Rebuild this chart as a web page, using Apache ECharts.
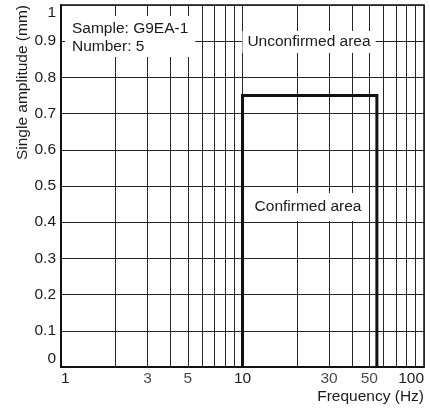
<!DOCTYPE html>
<html><head><meta charset="utf-8">
<script src="https://cdn.jsdelivr.net/npm/echarts@6/dist/echarts.min.js"></script>
<style>html,body{margin:0;padding:0;background:#fff}#c{width:430px;height:408px}</style>
</head><body><div id="c"></div>
<script>
// Data
const xMinorGrid = [2, 3, 4, 5, 6, 7, 8, 9, 20, 30, 40, 50, 60, 70, 80, 90];
const xExtraLabels = [3, 5, 30, 50];
const rectFreq = [10, 10, 55, 55];
const rectAmp = [0, 0.75, 0.75, 0];
const sampleText = 'Sample: G9EA-1\nNumber: 5';
const unconfirmedText = 'Unconfirmed area';
const confirmedText = 'Confirmed area';
const xName = 'Frequency (Hz)';
const yName = 'Single amplitude (mm)';

const FONT = '"Liberation Sans", Arial, Helvetica, sans-serif';
const FS = 15.5;
const TXT = '#1a1a1a';
const GRID = '#262626';

const chart = echarts.init(document.getElementById('c'), null, {renderer: 'canvas'});
chart.setOption({
  animation: false,
  backgroundColor: '#fff',
  textStyle: {fontFamily: FONT},
  grid: {left: 61, right: 6, top: 5, bottom: 41, show: true, borderColor: '#111', borderWidth: 1.5, backgroundColor: 'transparent'},
  xAxis: {
    type: 'log', logBase: 10, min: 1, max: 100,
    axisLine: {show: true, lineStyle: {color: '#111', width: 2}},
    axisTick: {show: false},
    splitLine: {show: true, lineStyle: {color: GRID, width: 1}},
    minorTick: {show: false}, minorSplitLine: {show: false},
    axisLabel: {fontSize: FS, color: TXT, fontFamily: FONT, margin: 4, alignMinLabel: 'left', alignMaxLabel: 'right'}
  },
  yAxis: {
    type: 'value', min: 0, max: 1, interval: 0.1,
    axisLine: {show: true, lineStyle: {color: '#111', width: 2}},
    axisTick: {show: false},
    splitLine: {show: true, lineStyle: {color: GRID, width: 1}},
    axisLabel: {
      fontSize: FS, color: TXT, fontFamily: FONT, margin: 5,
      verticalAlignMinLabel: 'bottom', verticalAlignMaxLabel: 'top',
      formatter: v => (v === 0 ? '0' : (Math.abs(v - 1) < 1e-9 ? '1' : v.toFixed(1)))
    }
  },
  series: [
    {
      type: 'line', data: [], z: 1, silent: true,
      markLine: {
        silent: true, symbol: ['none', 'none'], label: {show: false},
        lineStyle: {color: GRID, width: 1, type: 'solid'},
        emphasis: {disabled: true},
        data: xMinorGrid.map(v => ({xAxis: v}))
      }
    },
    {
      type: 'scatter', symbolSize: 0, z: 6, silent: true, clip: false,
      data: xExtraLabels.map(v => [v, 0]),
      label: {show: true, position: 'bottom', distance: 4, fontSize: FS, color: TXT, fontFamily: FONT,
        formatter: p => String(p.value[0])}
    },
    {
      type: 'line', z: 5, silent: true, symbol: 'none',
      data: rectFreq.map((f, i) => [f, rectAmp[i]]),
      lineStyle: {color: '#111', width: 3, join: 'miter'}
    }
  ],
  graphic: [
    {type: 'text', x: 65, y: 16, z: 100, style: {text: sampleText, font: FS + 'px ' + FONT, fill: TXT, lineHeight: 18, backgroundColor: '#fff', padding: [4, 7, 1, 7]}},
    {type: 'text', x: 309, y: 42, z: 100, style: {text: unconfirmedText, font: FS + 'px ' + FONT, fill: TXT, align: 'center', verticalAlign: 'middle', backgroundColor: '#fff', padding: [3, 5, 3, 5]}},
    {type: 'text', x: 308, y: 207, z: 100, style: {text: confirmedText, font: FS + 'px ' + FONT, fill: TXT, align: 'center', verticalAlign: 'middle', backgroundColor: '#fff', padding: [6, 4, 6, 4]}},
    {type: 'text', x: 424, y: 397, z: 100, style: {text: xName, font: FS + 'px ' + FONT, fill: TXT, align: 'right', verticalAlign: 'middle'}},
    {type: 'text', x: 23, y: 5, rotation: Math.PI / 2, z: 100, style: {text: yName, font: FS + 'px ' + FONT, fill: TXT, align: 'right', verticalAlign: 'middle'}}
  ]
});
</script>
</body></html>
